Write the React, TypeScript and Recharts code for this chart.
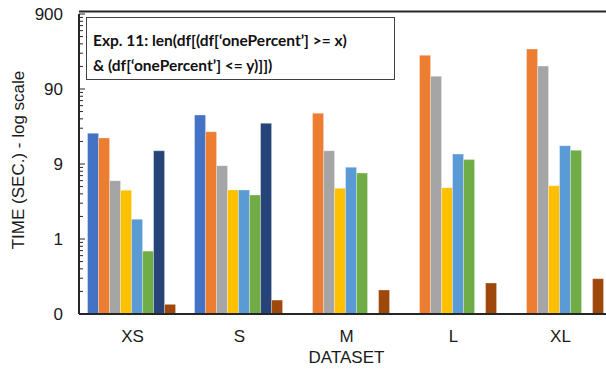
import { BarChart, Bar, XAxis, YAxis, ReferenceLine } from "recharts"

// values (seconds, log axis)
const categories = ["XS", "S", "M", "L", "XL"]
const series1 = [23.1, 40.5, null, null, null]
const series2 = [20.0, 24.3, 42.7, 253, 307]
const series3 = [5.39, 8.54, 13.5, 133, 182]
const series4 = [4.01, 4.05, 4.27, 4.35, 4.62]
const series5 = [1.65, 4.05, 8.13, 12.2, 15.8]
const series6 = [0.62, 3.47, 6.83, 10.3, 13.7]
const series7 = [13.5, 31.4, null, null, null]
const series8 = [0.121, 0.138, 0.188, 0.233, 0.266]

const majorTicks = [0.09, 0.9, 9, 90, 900]
const seriesColors = ["#4472C4", "#ED7D31", "#A5A5A5", "#FFC000", "#5B9BD5", "#70AD47", "#264478", "#9E480E"]

const allSeries = [series1, series2, series3, series4, series5, series6, series7, series8]

const data = categories.map((name, i) => {
  const row: Record<string, string | number | null> = { name }
  allSeries.forEach((s, k) => {
    row[`s${k + 1}`] = s[i]
  })
  return row
})

// log minor ticks between the majors
const ticks: number[] = []
majorTicks.slice(0, -1).forEach((d) => {
  for (let k = 1; k <= 9; k++) ticks.push(+(d * k).toPrecision(6))
})
ticks.push(900)

const AXIS_X = 79
const textColor = "#1a1a1a"
const axisColor = "#262626"
const font = "Liberation Sans, Arial, sans-serif"

function YTick(props: any) {
  const { y, payload } = props
  const v = payload.value
  const isMajor = majorTicks.some((m) => Math.abs(m - v) < 1e-9)
  return (
    <g>
      <line x1={AXIS_X} x2={AXIS_X + (isMajor ? 6 : 4)} y1={y} y2={y} stroke={axisColor} strokeWidth={1} />
      {isMajor && (
        <text x={AXIS_X - 16} y={y} textAnchor="end" dominantBaseline="central" fontSize={17} fill={textColor} fontFamily={font}>
          {Math.round(v)}
        </text>
      )}
    </g>
  )
}

function YLabel() {
  return (
    <text
      x={18}
      y={160}
      transform="rotate(-90 18 160)"
      textAnchor="middle"
      dominantBaseline="central"
      fontSize={17}
      fill={textColor}
      fontFamily={font}
    >
      TIME (SEC.) - log scale
    </text>
  )
}

export default function App() {
  return (
    <div style={{ position: "fixed", left: 0, top: 0, width: 606, height: 372, overflow: "hidden", background: "#fff" }}>
      <BarChart
        width={640}
        height={372}
        data={data}
        margin={{ top: 14, right: 26, bottom: 0, left: 0 }}
        barCategoryGap="8%"
        barGap={0}
      >
        <XAxis
          dataKey="name"
          height={58}
          tickLine={false}
          axisLine={{ stroke: axisColor, strokeWidth: 2 }}
          tickMargin={10}
          tick={{ fontSize: 17, fill: textColor, fontFamily: font }}
          label={{
            value: "DATASET",
            position: "insideBottom",
            offset: 9,
            fontSize: 17,
            fill: textColor,
            fontFamily: font,
          }}
        />
        <YAxis
          type="number"
          scale="log"
          domain={[0.09, 900]}
          allowDataOverflow
          ticks={ticks}
          interval={0}
          width={79}
          tickLine={false}
          axisLine={{ stroke: axisColor, strokeWidth: 2 }}
          tick={<YTick />}
          label={<YLabel />}
        />
        <ReferenceLine y={970} ifOverflow="visible" stroke={axisColor} strokeWidth={2} />
        {seriesColors.map((c, k) => (
          <Bar
            key={k}
            dataKey={`s${k + 1}`}
            name={`Series ${k + 1}`}
            fill={c}
            stroke="#ffffff"
            strokeOpacity={0.6}
            strokeWidth={0.5}
            isAnimationActive={false}
          />
        ))}
      </BarChart>
      <div
        style={{
          position: "absolute",
          left: 86,
          top: 17,
          width: 309,
          height: 63,
          boxSizing: "border-box",
          border: "1.5px solid #404040",
          background: "#fff",
          padding: "10px 0 0 6px",
          fontFamily: "Lato, 'Open Sans', sans-serif",
          fontWeight: 700,
          fontSize: 15.5,
          lineHeight: "25px",
          color: "#111",
          whiteSpace: "pre",
        }}
      >
        <div>Exp. 11: len(df[(df[‘onePercent’] &gt;= x)</div>
        <div>&amp; (df[‘onePercent’] &lt;= y)]])</div>
      </div>
    </div>
  )
}
